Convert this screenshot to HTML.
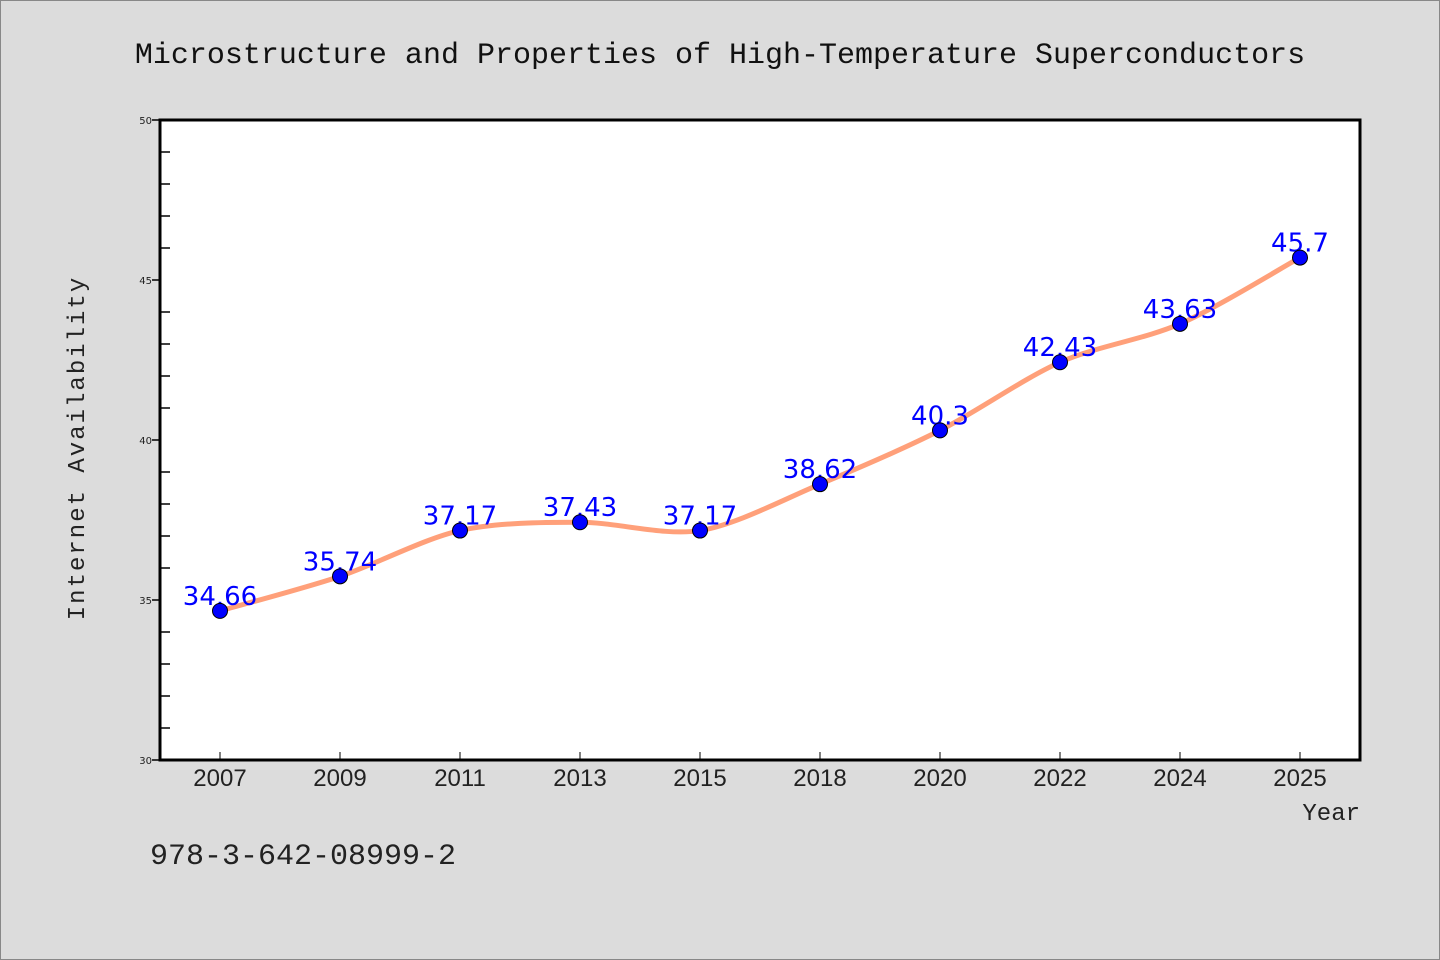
<!DOCTYPE html>
<html><head><meta charset="utf-8"><style>
html,body{margin:0;padding:0;background:#dcdcdc;}
svg{display:block;}
</style></head><body>
<svg id="chart" width="1440" height="960" xmlns="http://www.w3.org/2000/svg">
<rect x="0.5" y="0.5" width="1439" height="959" fill="#dcdcdc" stroke="#888"/>
<text x="720" y="63" text-anchor="middle" font-family="'WenQuanYi Zen Hei','Liberation Mono',monospace" font-size="30" fill="#111">Microstructure and Properties of High-Temperature Superconductors</text>
<rect x="160" y="120" width="1200" height="640" fill="#fff"/>
<g id="axes"></g>
<g id="series"></g>
<rect x="160" y="120" width="1200" height="640" fill="none" stroke="#000" stroke-width="3"/>
<text transform="translate(84,448) rotate(-90)" text-anchor="middle" font-family="'WenQuanYi Zen Hei','Liberation Mono',monospace" font-size="24" fill="#222" letter-spacing="2">Internet Availability</text>
<text x="1360" y="820" text-anchor="end" font-family="'WenQuanYi Zen Hei','Liberation Mono',monospace" font-size="24" fill="#222">Year</text>
<text x="150" y="864" font-family="'WenQuanYi Zen Hei','Liberation Mono',monospace" font-size="30" fill="#222">978-3-642-08999-2</text>
</svg>
<script>
const categories=["2007","2009","2011","2013","2015","2018","2020","2022","2024","2025"];
const values=[34.66,35.74,37.17,37.43,37.17,38.62,40.3,42.43,43.63,45.7];
const valueLabels=["34.66","35.74","37.17","37.43","37.17","38.62","40.3","42.43","43.63","45.7"];
const yTicks=[30,35,40,45,50];
const yMin=30,yMax=50;
const NS="http://www.w3.org/2000/svg";
const L=160,R=1360,T=120,B=760;
function xs(i){return L+60+i*(R-L-120)/(categories.length-1);}
function ys(v){return B-(v-yMin)/(yMax-yMin)*(B-T);}
function mk(tag,attrs,parent){const e=document.createElementNS(NS,tag);for(const k in attrs)e.setAttribute(k,attrs[k]);parent.appendChild(e);return e;}
const axes=document.getElementById('axes'),series=document.getElementById('series');
for(let v=yMin;v<=yMax;v++){
  if(yTicks.includes(v)){
    const t=mk('line',{x1:L-8,x2:L,y1:ys(v),y2:ys(v),stroke:'#000','stroke-width':1.5},axes);
    
    
    const lb=mk('text',{x:L-8,y:ys(v)+4,'text-anchor':'end','font-family':"'DejaVu Sans',sans-serif",'font-size':10,fill:'#222'},axes);
    lb.textContent=v;
    
    
  } else {
    const t=mk('line',{x1:L,x2:L+10,y1:ys(v),y2:ys(v),stroke:'#000','stroke-width':1.5},axes);
    
    
  }
}
categories.forEach((c,i)=>{
  const t=mk('line',{x1:xs(i),x2:xs(i),y1:B-8,y2:B,stroke:'#000','stroke-width':1},axes);
  
  
  const lb=mk('text',{x:xs(i),y:B+26,'text-anchor':'middle','font-family':"'WenQuanYi Zen Hei','Liberation Sans',sans-serif",'font-size':24,fill:'#222'},axes);
  lb.textContent=c;
  
  
});
const pts=values.map((v,i)=>[xs(i),ys(v)]);
let d='M'+pts[0][0]+','+pts[0][1];
const tension=0.15;
for(let i=0;i<pts.length-1;i++){
  const p0=pts[Math.max(0,i-1)],p1=pts[i],p2=pts[i+1],p3=pts[Math.min(pts.length-1,i+2)];
  const c1=[p1[0]+(p2[0]-p0[0])*tension,p1[1]+(p2[1]-p0[1])*tension];
  const c2=[p2[0]-(p3[0]-p1[0])*tension,p2[1]-(p3[1]-p1[1])*tension];
  d+=` C${c1[0]},${c1[1]} ${c2[0]},${c2[1]} ${p2[0]},${p2[1]}`;
}
const path=mk('path',{d:d,fill:'none',stroke:'#ffa07a','stroke-width':5},series);


values.forEach((v,i)=>{
  const lb=mk('text',{x:xs(i),y:ys(v)-6,'text-anchor':'middle','font-family':"'DejaVu Sans',sans-serif",'font-size':26,fill:'#0000ff'},series);
  lb.textContent=valueLabels[i];
  
  
});
values.forEach((v,i)=>{
  const c=mk('circle',{cx:xs(i),cy:ys(v),r:7.5,fill:'#0000ff',stroke:'#000','stroke-width':1},series);
  
  
});
</script>
</body></html>
